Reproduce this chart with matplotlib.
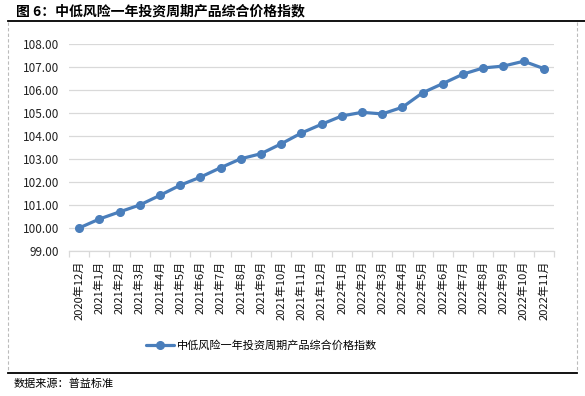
import matplotlib
matplotlib.use('Agg')
import matplotlib.pyplot as plt
from matplotlib.lines import Line2D
import numpy as np

plt.rcParams['font.family'] = ['Noto Sans CJK SC', 'DejaVu Sans']

# 数据
months = ['2020年12月', '2021年1月', '2021年2月', '2021年3月', '2021年4月', '2021年5月',
          '2021年6月', '2021年7月', '2021年8月', '2021年9月', '2021年10月', '2021年11月',
          '2021年12月', '2022年1月', '2022年2月', '2022年3月', '2022年4月', '2022年5月',
          '2022年6月', '2022年7月', '2022年8月', '2022年9月', '2022年10月', '2022年11月']
index_values = [100.00, 100.39, 100.70, 101.00, 101.42, 101.86, 102.21, 102.62,
                103.01, 103.23, 103.66, 104.13, 104.51, 104.87, 105.03, 104.96,
                105.25, 105.88, 106.28, 106.69, 106.96, 107.04, 107.25, 106.93]
y_ticks = [99, 100, 101, 102, 103, 104, 105, 106, 107, 108]

serie_nome = '中低风险一年投资周期产品综合价格指数'
titulo = '图 6：中低风险一年投资周期产品综合价格指数'
fonte = '数据来源：普益标准'

fig = plt.figure(figsize=(5.85, 3.96), dpi=100)
ax = fig.add_axes([69 / 585, 1 - 251 / 396, (554 - 69) / 585, (251 - 44) / 396])

x = np.arange(len(months))
ax.plot(x, index_values, color='#4a7ebb', linewidth=2.3, marker='o', markersize=5.5,
        label=serie_nome, solid_capstyle='round')

ax.set_xlim(-0.5, len(months) - 0.5)
ax.set_ylim(99, 108)
ax.set_yticks(y_ticks)
ax.set_yticklabels([f'{v:.2f}' for v in y_ticks], fontsize=8.5, color='#222222')
ax.yaxis.grid(True, color='#d9d9d9', linewidth=0.9)
ax.set_axisbelow(True)

ax.set_xticks(x)
ax.set_xticklabels(months, rotation=90, fontsize=8, color='#111111')
ax.set_xticks(np.arange(-0.5, len(months), 1), minor=True)
ax.tick_params(axis='x', which='major', length=0, pad=7)
ax.tick_params(axis='x', which='minor', length=4, color='#d9d9d9', width=0.9)
ax.tick_params(axis='y', length=0, pad=7)

for s in ['top', 'right', 'left']:
    ax.spines[s].set_visible(False)
ax.spines['bottom'].set_color('#d9d9d9')
ax.spines['bottom'].set_linewidth(0.9)

# moldura
fig.add_artist(Line2D([8 / 585, 1.0], [1 - 20.5 / 396] * 2, color='black', linewidth=1.3))
fig.add_artist(Line2D([8 / 585, 577 / 585], [1 - 373 / 396] * 2, color='black', linewidth=1.3))
fig.add_artist(Line2D([8 / 585] * 2, [1 - 22 / 396, 1 - 372 / 396], color='#bbbbbb',
                      linewidth=0.8, linestyle=(0, (3, 2))))
fig.add_artist(Line2D([577 / 585] * 2, [1 - 22 / 396, 1 - 372 / 396], color='#bbbbbb',
                      linewidth=0.8, linestyle=(0, (3, 2))))

fig.text(16 / 585, 1 - 11 / 396, titulo, fontsize=10, fontweight='bold', va='center', ha='left')
fig.text(14 / 585, 1 - 384 / 396, fonte, fontsize=8, va='center', ha='left')

fig.legend(loc='center', bbox_to_anchor=(262 / 585, 1 - 346 / 396), frameon=False,
           fontsize=8, handlelength=2.5, handletextpad=0.3)

fig.savefig('out.png', dpi=100)
